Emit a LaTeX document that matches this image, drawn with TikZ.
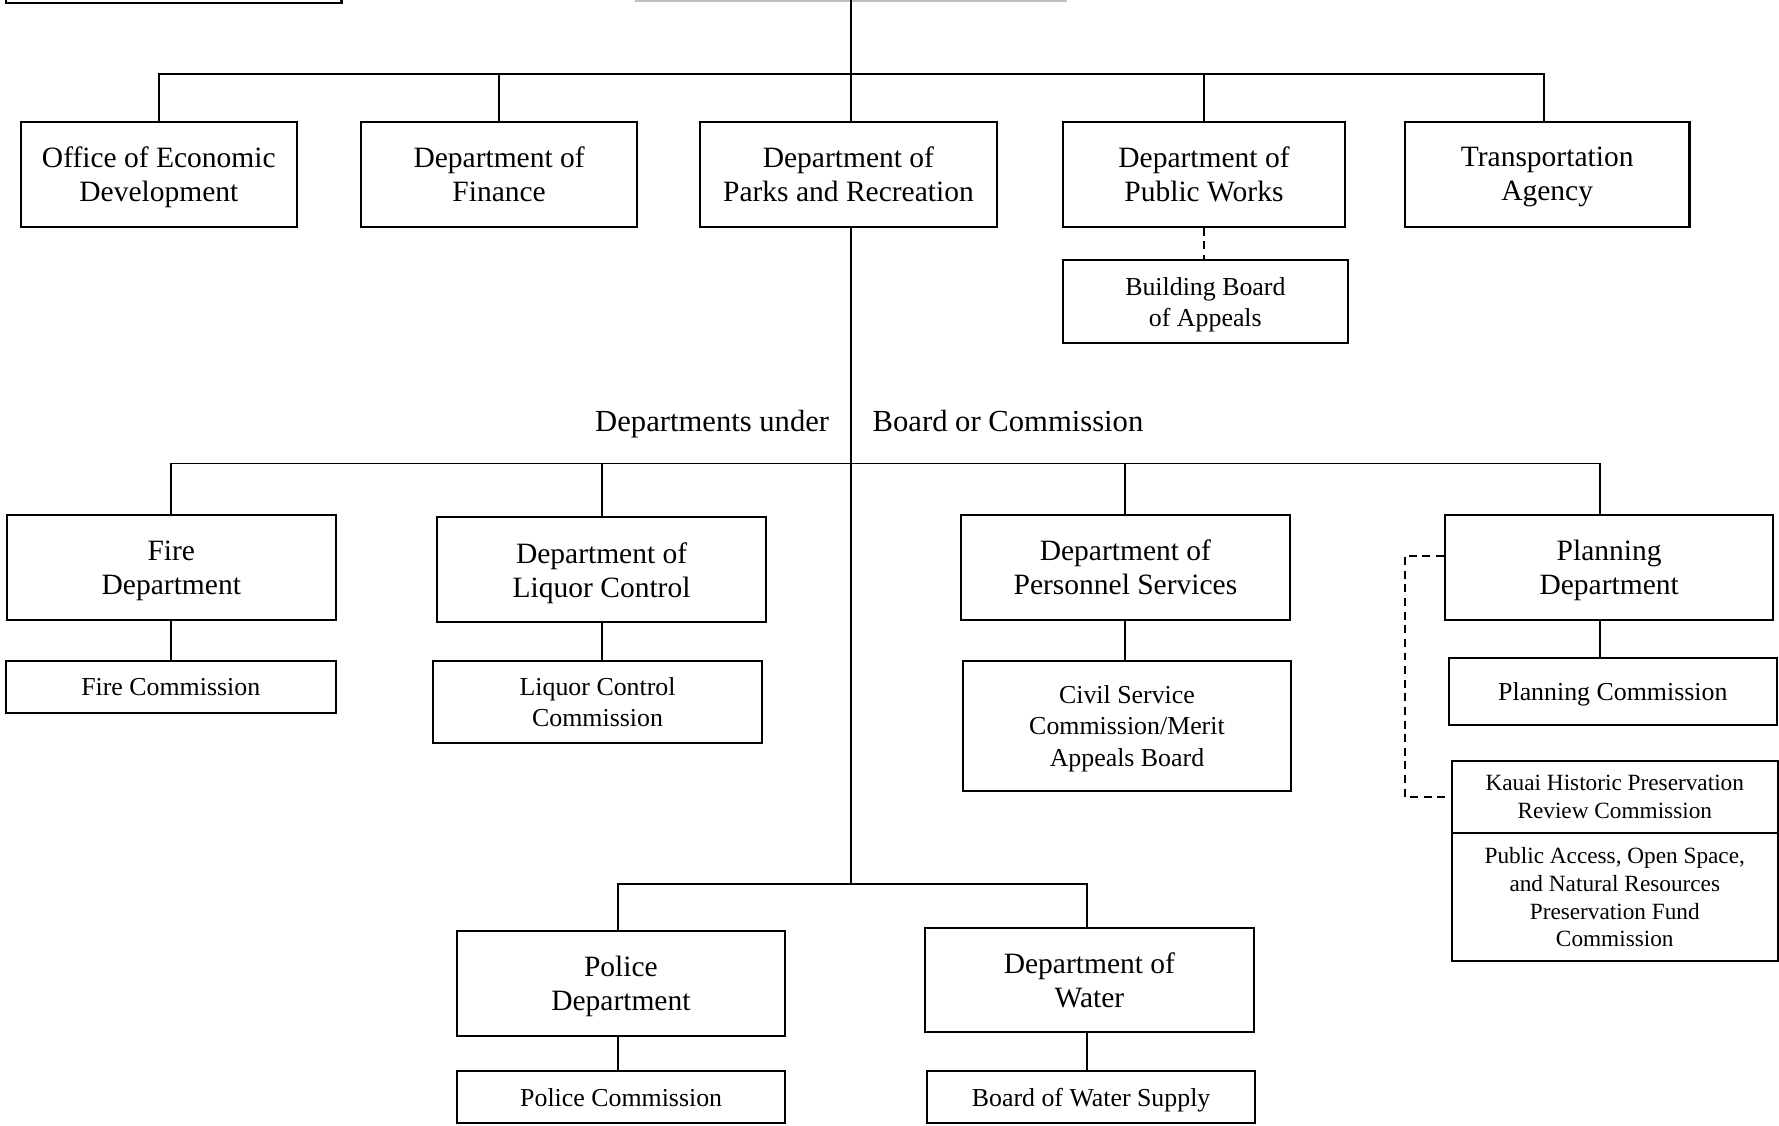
\documentclass[tikz,border=0pt]{standalone}
\usepackage{fontspec}
\setmainfont{Liberation Serif}
\newcommand\fbig{\fontsize{26}{30}\selectfont}
\newcommand\flbl{\fontsize{27}{30}\selectfont}
\newcommand\fmed{\fontsize{22.8}{27.5}\selectfont}
\newcommand\fsml{\fontsize{20.5}{24.4}\selectfont}
\begin{document}
\begin{tikzpicture}[x=1pt,y=-1pt,
  box/.style={draw, line width=1.8pt, inner sep=0pt, align=center, font=\fbig, text depth=0pt},
  cbox/.style={box, font=\fmed},
  sbox/.style={box, font=\fsml},
  conn/.style={line width=1.7pt},
  dconn/.style={line width=1.6pt, dash pattern=on 7pt off 5pt}]
\useasboundingbox (0,0) rectangle (1568,992);

% partially visible boxes at the top edge
\draw[line width=1.8pt] (5,-40) rectangle (301,3);
\draw[line width=2.2pt, black!25] (560,0.5) -- (940,0.5);

% top row
\node[box, minimum width=243pt, minimum height=92.6pt] (oed) at (140,153.5) {Office of Economic\\Development};
\node[box, minimum width=243pt, minimum height=92.6pt] (fin) at (439.9,153.5) {Department of\\Finance};
\node[box, minimum width=261.6pt, minimum height=92.6pt] (parks) at (747.8,153.5) {Department of\\Parks and Recreation};
\node[box, minimum width=248.3pt, minimum height=92.6pt] (pw) at (1061.15,153.5) {Department of\\Public Works};
\node[box, minimum width=250.9pt, minimum height=92.6pt] (ta) at (1363.65,153.5) {Transportation\\Agency};
\node[cbox, minimum width=250.8pt, minimum height=73.1pt] (bba) at (1062.4,266.05) {Building Board\\of Appeals};

% labels
\node[anchor=base east, font=\flbl, inner sep=0pt] (lblA) at (731,380) {Departments under};
\node[anchor=base west, font=\flbl, inner sep=0pt] (lblB) at (769,380) {Board or Commission};

% second row
\node[box, minimum width=290pt, minimum height=92.5pt] (fire) at (151,500.25) {Fire\\Department};
\node[box, minimum width=289.5pt, minimum height=92.7pt] (liq) at (530.25,502.15) {Department of\\Liquor Control};
\node[box, minimum width=289.3pt, minimum height=92.5pt] (pers) at (991.95,500.25) {Department of\\Personnel Services};
\node[box, minimum width=289.4pt, minimum height=92.5pt] (plan) at (1418.3,500.25) {Planning\\Department};

\node[cbox, minimum width=291pt, minimum height=46pt] (firec) at (150.5,605.6) {Fire Commission};
\node[cbox, minimum width=289.4pt, minimum height=72.4pt] (liqc) at (526.7,618.8) {Liquor Control\\Commission};
\node[cbox, minimum width=289.8pt, minimum height=114.4pt] (civ) at (993.3,639.8) {Civil Service\\Commission/Merit\\Appeals Board};
\node[cbox, minimum width=289pt, minimum height=59.3pt] (planc) at (1421.5,609.35) {Planning Commission};
\node[sbox, minimum width=287.5pt, minimum height=63.7pt] (kauai) at (1423.25,702.55) {Kauai Historic Preservation\\Review Commission};
\node[sbox, minimum width=287.5pt, minimum height=112.6pt] (paos) at (1423.25,790.7) {Public Access, Open Space,\\and Natural Resources\\Preservation Fund\\Commission};

% bottom row
\node[box, minimum width=288.5pt, minimum height=92.2pt] (pol) at (547.25,866.7) {Police\\Department};
\node[box, minimum width=289.4pt, minimum height=92.3pt] (wat) at (960.2,863.75) {Department of\\Water};
\node[cbox, minimum width=289pt, minimum height=46pt] (polc) at (547.5,967) {Police Commission};
\node[cbox, minimum width=289.4pt, minimum height=46pt] (watc) at (961.7,967) {Board of Water Supply};

% coordinates
\coordinate (top) at (750,0);
\coordinate (b1) at (750,65);
\coordinate (b2) at (750,408.5);
\coordinate (b3) at (750,779);
\coordinate (pdrop) at (1410,0);
\coordinate (tdrop) at (1361,0);
\coordinate (poldrop) at (545,0);
\coordinate (watdrop) at (958,0);

% top connectors
\draw[conn] (top) -- (top |- parks.north);
\draw[conn] (oed.north) |- (b1) -| (tdrop |- ta.north);
\draw[conn] (fin.north) -- (fin.north |- b1);
\draw[conn] (pw.north) -- (pw.north |- b1);
\draw[dconn] (pw.south) -- (pw.south |- bba.north);

% trunk
\draw[conn] (top |- parks.south) -- (b3);

% second bus
\draw[conn] (fire.north) |- (b2) -| (pdrop |- plan.north);
\draw[conn] (liq.north) -- (liq.north |- b2);
\draw[conn] (pers.north) -- (pers.north |- b2);
\draw[conn] (fire.south) -- (fire.south |- firec.north);
\draw[conn] (liq.south) -- (liq.south |- liqc.north);
\draw[conn] (pers.south) -- (pers.south |- civ.north);
\draw[conn] (pdrop |- plan.south) -- (pdrop |- planc.north);
\draw[dconn] ([yshift=10.5pt]plan.west) -- ++(-34.6,0) |- (kauai.west);

% bottom bus
\draw[conn] (poldrop |- pol.north) |- (b3) -| (watdrop |- wat.north);
\draw[conn] (poldrop |- pol.south) -- (poldrop |- polc.north);
\draw[conn] (watdrop |- wat.south) -- (watdrop |- watc.north);
\end{tikzpicture}
\end{document}
